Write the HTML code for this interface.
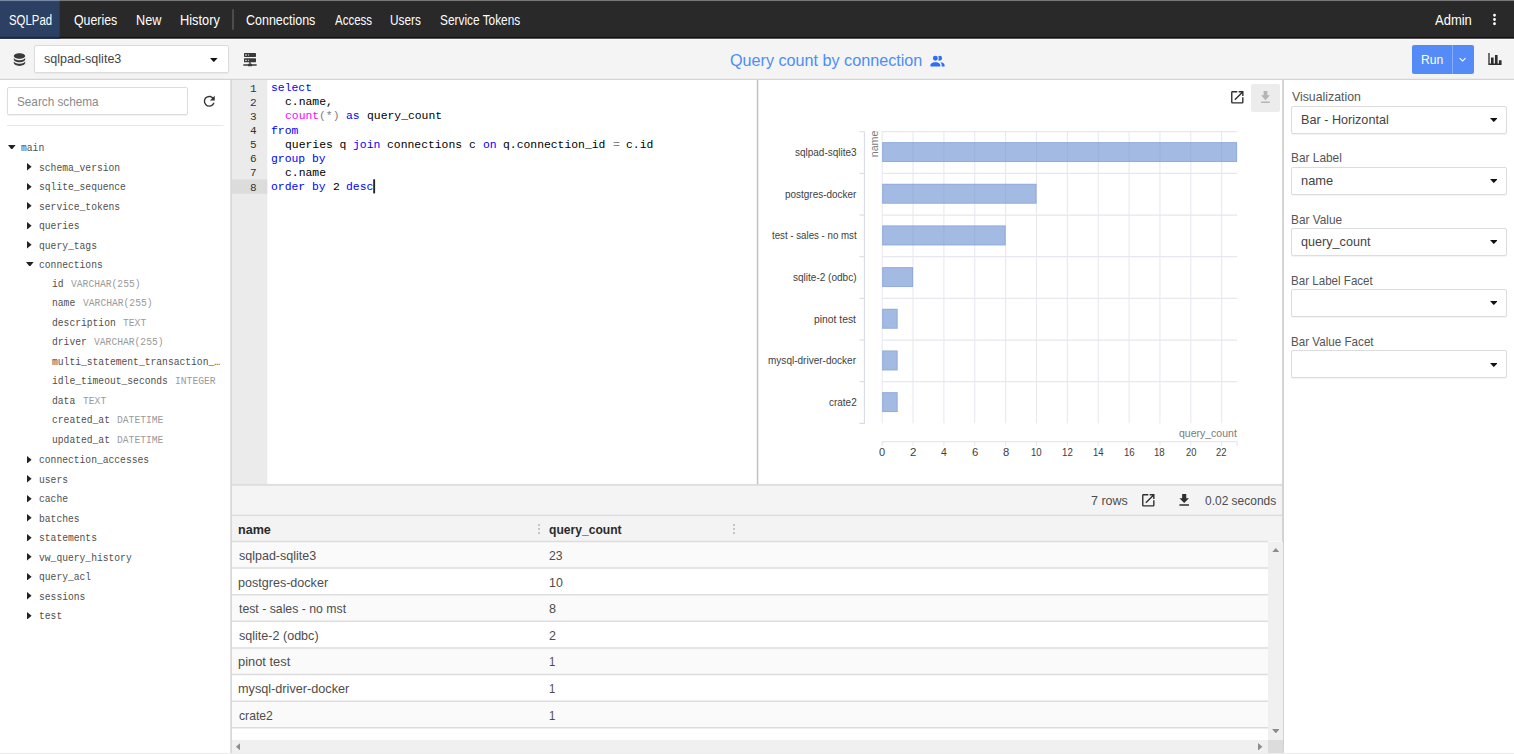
<!DOCTYPE html>
<html lang="en">
<head>
<meta charset="utf-8">
<title>SQLPad - Query count by connection</title>
<style>
*{box-sizing:border-box;margin:0;padding:0}
html,body{width:1514px;height:754px;overflow:hidden;background:#fff}
body{position:relative;font-family:"Liberation Sans",sans-serif;font-size:13px;color:#444}
.abs,.t,.tri,svg.ic{position:absolute}
.t{white-space:pre;transform-origin:0 0;display:block}
.tri{fill:#222;display:block}
svg.ic{display:block}
/* toolbar */
.sel{background:#fff;border:1px solid #dcdcdc;border-radius:2px;box-shadow:0 1px 1px rgba(0,0,0,.05)}
#run{left:1411.5px;top:45px;width:62.5px;height:29px;background:#548bf7;border-radius:2px}
#rundiv{left:1451.5px;top:45px;width:1px;height:29px;background:#86adf9}
/* sidebar */
#search{left:6.9px;top:87px;width:181.2px;height:28px;background:#fff;border:1px solid #dcdcdc;border-radius:2px;box-shadow:0 1px 1px rgba(0,0,0,.06)}
/* right panel */
#dlbtn{left:1251px;top:83.6px;width:28.5px;height:28.4px;background:#ececec;border-radius:2px}
/* results */
#vscroll{left:1268px;top:541.6px;width:14.7px;height:198px;background:#f0f0f0}
#hscroll{left:232px;top:739.6px;width:1036px;height:13px;background:#f0f0f0}
#corner{left:1268px;top:739.6px;width:14.7px;height:13px;background:#dcdcdc}
.handle{width:2px;height:10px;background:repeating-linear-gradient(to bottom,#c4c4c4 0,#c4c4c4 1.6px,transparent 1.6px,transparent 4px)}
</style>
</head>
<body>
<svg class="ic" id="chrome" style="left:0;top:0" width="1514" height="754" viewBox="0 0 1514 754" shape-rendering="geometricPrecision">
<!-- toolbar -->
<rect x="0" y="38.72" width="1514" height="41.28" fill="#f4f4f4"/>
<rect x="0" y="38.72" width="1514" height="1.5" fill="#fbfbfb"/>
<rect x="0" y="78.75" width="1514" height="1.25" fill="#d4d4d4"/>
<!-- nav -->
<rect x="0" y="0" width="1514" height="38" fill="#292929"/>
<rect x="0" y="0" width="59.7" height="38" fill="#2c4063"/>
<rect x="0" y="0" width="1514" height="1.05" fill="#787878"/>
<rect x="0" y="0" width="59.7" height="1.05" fill="#7688a6"/>
<rect x="0" y="36.9" width="1514" height="1.82" fill="#131313"/>
<rect x="0" y="36.9" width="59.7" height="1.82" fill="#18284e"/>
<rect x="232.1" y="9.2" width="1.8" height="20.6" fill="#505050"/>
<!-- editor gutter -->
<rect x="232" y="80" width="35.3" height="404" fill="#ebebeb"/>
<rect x="232" y="179.5" width="35.3" height="14.2" fill="#dcdcdc"/>
<rect x="373.2" y="179.3" width="1.9" height="14.1" fill="#262626"/>
<!-- results -->
<rect x="232" y="485.9" width="1051" height="29" fill="#f4f4f4"/>
<rect x="232" y="516" width="1051" height="25.5" fill="#f3f3f3"/>
<rect x="232" y="483.9" width="1051" height="2" fill="#dedede"/>
<rect x="232" y="514.5" width="1051" height="1.6" fill="#dedede"/>
<!-- vertical dividers -->
<rect x="230.35" y="80" width="1.6" height="674" fill="#d6d6d6"/>
<rect x="756.8" y="80" width="1.5" height="404" fill="#c2c2c2"/>
<rect x="1282.1" y="80" width="1.9" height="674" fill="#d2d2d2"/>
<!-- sidebar separator -->
<rect x="7" y="125" width="216.5" height="1" fill="#e6e6e6"/>
<!-- bottom window edge -->
<rect x="0" y="752.9" width="1514" height="1.1" fill="#ececec"/>
</svg>
<!-- NAV -->
<svg class="ic" style="left:1486px;top:11.2px" width="17" height="17" viewBox="0 0 24 24" fill="#fff"><path d="M12,16A2,2 0 0,1 14,18A2,2 0 0,1 12,20A2,2 0 0,1 10,18A2,2 0 0,1 12,16M12,10A2,2 0 0,1 14,12A2,2 0 0,1 12,14A2,2 0 0,1 10,12A2,2 0 0,1 12,10M12,4A2,2 0 0,1 14,6A2,2 0 0,1 12,8A2,2 0 0,1 10,6A2,2 0 0,1 12,4Z"/></svg>

<!-- TOOLBAR -->
<svg class="ic" style="left:11px;top:51.2px" width="17" height="17" viewBox="0 0 24 24" fill="#3a3a3a"><path d="M12,3C7.58,3 4,4.79 4,7C4,9.21 7.58,11 12,11C16.42,11 20,9.21 20,7C20,4.79 16.42,3 12,3M4,9V12C4,14.21 7.58,16 12,16C16.42,16 20,14.21 20,12V9C20,11.21 16.42,13 12,13C7.58,13 4,11.21 4,9M4,14V17C4,19.21 7.58,21 12,21C16.42,21 20,19.21 20,17V14C20,16.21 16.42,18 12,18C7.58,18 4,16.21 4,14Z"/></svg>
<div class="abs sel" style="left:33.8px;top:45.2px;width:195px;height:28px"></div>
<svg class="ic" style="left:210.3px;top:58.3px" width="7.6" height="4.1" viewBox="0 0 9 5" preserveAspectRatio="none" fill="#111"><path d="M0 0H9L4.5 5Z"/></svg>
<svg class="ic" style="left:242.4px;top:51px" width="16" height="16" viewBox="0 0 24 24" fill="#3a3a3a"><path d="M13,19H14A1,1 0 0,1 15,20H22V22H15A1,1 0 0,1 14,23H10A1,1 0 0,1 9,22H2V20H9A1,1 0 0,1 10,19H11V17H4A1,1 0 0,1 3,16V12A1,1 0 0,1 4,11H20A1,1 0 0,1 21,12V16A1,1 0 0,1 20,17H13V19M4,3H20A1,1 0 0,1 21,4V8A1,1 0 0,1 20,9H4A1,1 0 0,1 3,8V4A1,1 0 0,1 4,3M9,7H10V5H9V7M9,15H10V13H9V15M5,5V7H7V5H5M5,13V15H7V13H5Z"/></svg>
<svg class="ic" style="left:928.6px;top:52.6px" width="17" height="17" viewBox="0 0 24 24" fill="#2f6df6"><path d="M16 17V19H2V17S2 13 9 13 16 17 16 17M12.5 7.5A3.5 3.5 0 1 0 9 11A3.5 3.5 0 0 0 12.5 7.5M15.94 13A5.32 5.32 0 0 1 18 17V19H22V17S22 13.37 15.94 13M15 4A3.39 3.39 0 0 0 13.07 4.59A5 5 0 0 1 13.07 10.41A3.39 3.39 0 0 0 15 11A3.5 3.5 0 0 0 15 4Z"/></svg>
<div id="run" class="abs"></div>
<div id="rundiv" class="abs"></div>
<svg class="ic" style="left:1456.4px;top:53.3px" width="13.2" height="13.2" viewBox="0 0 24 24" fill="#fff"><path d="M7.41,8.58L12,13.17L16.59,8.58L18,10L12,16L6,10L7.41,8.58Z"/></svg>
<svg class="ic" style="left:1487.1px;top:51.0px" width="15.9" height="15.9" viewBox="0 0 24 24" fill="#2e2e2e"><path d="M22,21H2V3H4V19H6V10H10V19H12V6H16V19H18V14H22V21Z"/></svg>

<!-- SIDEBAR -->
<div id="search" class="abs"></div>
<svg class="ic" style="left:201.1px;top:93.2px" width="16.5" height="16.5" viewBox="0 0 24 24" fill="#333"><path d="M17.65,6.35C16.2,4.9 14.21,4 12,4A8,8 0 0,0 4,12A8,8 0 0,0 12,20C15.73,20 18.84,17.45 19.73,14H17.65C16.83,16.33 14.61,18 12,18A6,6 0 0,1 6,12A6,6 0 0,1 12,6C13.66,6 15.14,6.69 16.22,7.78L13,11H20V4L17.65,6.35Z"/></svg>
<svg class="tri" style="left:8.1px;top:144.7px" width="7.6" height="4.8" viewBox="0 0 7.6 4.8"><path d="M0 0H7.6L3.8 4.8Z"/></svg>
<svg class="tri" style="left:27.4px;top:163.0px" width="4.6" height="7.6" viewBox="0 0 4.6 7.6"><path d="M0 0V7.6L4.6 3.8Z"/></svg>
<svg class="tri" style="left:27.4px;top:182.5px" width="4.6" height="7.6" viewBox="0 0 4.6 7.6"><path d="M0 0V7.6L4.6 3.8Z"/></svg>
<svg class="tri" style="left:27.4px;top:202.0px" width="4.6" height="7.6" viewBox="0 0 4.6 7.6"><path d="M0 0V7.6L4.6 3.8Z"/></svg>
<svg class="tri" style="left:27.4px;top:221.5px" width="4.6" height="7.6" viewBox="0 0 4.6 7.6"><path d="M0 0V7.6L4.6 3.8Z"/></svg>
<svg class="tri" style="left:27.4px;top:241.0px" width="4.6" height="7.6" viewBox="0 0 4.6 7.6"><path d="M0 0V7.6L4.6 3.8Z"/></svg>
<svg class="tri" style="left:26.4px;top:261.7px" width="7.6" height="4.8" viewBox="0 0 7.6 4.8"><path d="M0 0H7.6L3.8 4.8Z"/></svg>
<svg class="tri" style="left:27.4px;top:455.5px" width="4.6" height="7.6" viewBox="0 0 4.6 7.6"><path d="M0 0V7.6L4.6 3.8Z"/></svg>
<svg class="tri" style="left:27.4px;top:475.0px" width="4.6" height="7.6" viewBox="0 0 4.6 7.6"><path d="M0 0V7.6L4.6 3.8Z"/></svg>
<svg class="tri" style="left:27.4px;top:494.5px" width="4.6" height="7.6" viewBox="0 0 4.6 7.6"><path d="M0 0V7.6L4.6 3.8Z"/></svg>
<svg class="tri" style="left:27.4px;top:514.0px" width="4.6" height="7.6" viewBox="0 0 4.6 7.6"><path d="M0 0V7.6L4.6 3.8Z"/></svg>
<svg class="tri" style="left:27.4px;top:533.5px" width="4.6" height="7.6" viewBox="0 0 4.6 7.6"><path d="M0 0V7.6L4.6 3.8Z"/></svg>
<svg class="tri" style="left:27.4px;top:553.0px" width="4.6" height="7.6" viewBox="0 0 4.6 7.6"><path d="M0 0V7.6L4.6 3.8Z"/></svg>
<svg class="tri" style="left:27.4px;top:572.5px" width="4.6" height="7.6" viewBox="0 0 4.6 7.6"><path d="M0 0V7.6L4.6 3.8Z"/></svg>
<svg class="tri" style="left:27.4px;top:592.0px" width="4.6" height="7.6" viewBox="0 0 4.6 7.6"><path d="M0 0V7.6L4.6 3.8Z"/></svg>
<svg class="tri" style="left:27.4px;top:611.5px" width="4.6" height="7.6" viewBox="0 0 4.6 7.6"><path d="M0 0V7.6L4.6 3.8Z"/></svg>

<!-- EDITOR -->

<!-- CHART -->
<svg class="ic" style="left:1228.6px;top:89.0px" width="16.6" height="16.6" viewBox="0 0 24 24" fill="#2e2e2e"><path d="M14,3V5H17.59L7.76,14.83L9.17,16.24L19,6.41V10H21V3M19,19H5V5H12V3H5C3.89,3 3,3.9 3,5V19A2,2 0 0,0 5,21H19A2,2 0 0,0 21,19V12H19V19Z"/></svg>
<div id="dlbtn" class="abs"></div>
<svg class="ic" style="left:1257.8px;top:89.0px" width="15" height="16.8" viewBox="0 0 24 24" preserveAspectRatio="none" fill="#b4b4b4"><path d="M5,20H19V18H5M19,9H15V3H9V9H5L12,16L19,9Z"/></svg>
<svg class="ic" style="left:758px;top:80px" width="524" height="404" viewBox="758 80 524 404">
<line x1="882.20" y1="131.70" x2="882.20" y2="423.39" stroke="#e6e7ef" stroke-width="1"/>
<line x1="913.06" y1="131.70" x2="913.06" y2="423.39" stroke="#e6e7ef" stroke-width="1"/>
<line x1="943.92" y1="131.70" x2="943.92" y2="423.39" stroke="#e6e7ef" stroke-width="1"/>
<line x1="974.78" y1="131.70" x2="974.78" y2="423.39" stroke="#e6e7ef" stroke-width="1"/>
<line x1="1005.64" y1="131.70" x2="1005.64" y2="423.39" stroke="#e6e7ef" stroke-width="1"/>
<line x1="1036.50" y1="131.70" x2="1036.50" y2="423.39" stroke="#e6e7ef" stroke-width="1"/>
<line x1="1067.36" y1="131.70" x2="1067.36" y2="423.39" stroke="#e6e7ef" stroke-width="1"/>
<line x1="1098.22" y1="131.70" x2="1098.22" y2="423.39" stroke="#e6e7ef" stroke-width="1"/>
<line x1="1129.08" y1="131.70" x2="1129.08" y2="423.39" stroke="#e6e7ef" stroke-width="1"/>
<line x1="1159.94" y1="131.70" x2="1159.94" y2="423.39" stroke="#e6e7ef" stroke-width="1"/>
<line x1="1190.80" y1="131.70" x2="1190.80" y2="423.39" stroke="#e6e7ef" stroke-width="1"/>
<line x1="1221.66" y1="131.70" x2="1221.66" y2="423.39" stroke="#e6e7ef" stroke-width="1"/>
<line x1="882.20" y1="131.70" x2="1237.09" y2="131.70" stroke="#e6e7ef" stroke-width="1.2"/>
<line x1="882.20" y1="173.37" x2="1237.09" y2="173.37" stroke="#e6e7ef" stroke-width="1.2"/>
<line x1="882.20" y1="215.04" x2="1237.09" y2="215.04" stroke="#e6e7ef" stroke-width="1.2"/>
<line x1="882.20" y1="256.71" x2="1237.09" y2="256.71" stroke="#e6e7ef" stroke-width="1.2"/>
<line x1="882.20" y1="298.38" x2="1237.09" y2="298.38" stroke="#e6e7ef" stroke-width="1.2"/>
<line x1="882.20" y1="340.05" x2="1237.09" y2="340.05" stroke="#e6e7ef" stroke-width="1.2"/>
<line x1="882.20" y1="381.72" x2="1237.09" y2="381.72" stroke="#e6e7ef" stroke-width="1.2"/>
<path d="M859.4 131.70H864.4V423.39H859.4" fill="none" stroke="#d9dce6" stroke-width="1.1"/>
<line x1="859.4" y1="173.37" x2="864.4" y2="173.37" stroke="#d9dce6" stroke-width="1.1"/>
<line x1="859.4" y1="215.04" x2="864.4" y2="215.04" stroke="#d9dce6" stroke-width="1.1"/>
<line x1="859.4" y1="256.71" x2="864.4" y2="256.71" stroke="#d9dce6" stroke-width="1.1"/>
<line x1="859.4" y1="298.38" x2="864.4" y2="298.38" stroke="#d9dce6" stroke-width="1.1"/>
<line x1="859.4" y1="340.05" x2="864.4" y2="340.05" stroke="#d9dce6" stroke-width="1.1"/>
<line x1="859.4" y1="381.72" x2="864.4" y2="381.72" stroke="#d9dce6" stroke-width="1.1"/>
<path d="M882.20 446.1V441.6H1237.09V446.1" fill="none" stroke="#e6e7ef" stroke-width="1.2"/>
<line x1="913.06" y1="441.6" x2="913.06" y2="446.1" stroke="#e6e7ef" stroke-width="1"/>
<line x1="943.92" y1="441.6" x2="943.92" y2="446.1" stroke="#e6e7ef" stroke-width="1"/>
<line x1="974.78" y1="441.6" x2="974.78" y2="446.1" stroke="#e6e7ef" stroke-width="1"/>
<line x1="1005.64" y1="441.6" x2="1005.64" y2="446.1" stroke="#e6e7ef" stroke-width="1"/>
<line x1="1036.50" y1="441.6" x2="1036.50" y2="446.1" stroke="#e6e7ef" stroke-width="1"/>
<line x1="1067.36" y1="441.6" x2="1067.36" y2="446.1" stroke="#e6e7ef" stroke-width="1"/>
<line x1="1098.22" y1="441.6" x2="1098.22" y2="446.1" stroke="#e6e7ef" stroke-width="1"/>
<line x1="1129.08" y1="441.6" x2="1129.08" y2="446.1" stroke="#e6e7ef" stroke-width="1"/>
<line x1="1159.94" y1="441.6" x2="1159.94" y2="446.1" stroke="#e6e7ef" stroke-width="1"/>
<line x1="1190.80" y1="441.6" x2="1190.80" y2="446.1" stroke="#e6e7ef" stroke-width="1"/>
<line x1="1221.66" y1="441.6" x2="1221.66" y2="446.1" stroke="#e6e7ef" stroke-width="1"/>
<rect x="882.20" y="142.13" width="354.89" height="19.9" fill="#7295d2" fill-opacity="0.65"/><rect x="882.70" y="142.63" width="353.89" height="18.9" fill="none" stroke="#6a8fd0" stroke-opacity="0.3" stroke-width="1"/>
<rect x="882.20" y="183.80" width="154.30" height="19.9" fill="#7295d2" fill-opacity="0.65"/><rect x="882.70" y="184.30" width="153.30" height="18.9" fill="none" stroke="#6a8fd0" stroke-opacity="0.3" stroke-width="1"/>
<rect x="882.20" y="225.47" width="123.44" height="19.9" fill="#7295d2" fill-opacity="0.65"/><rect x="882.70" y="225.97" width="122.44" height="18.9" fill="none" stroke="#6a8fd0" stroke-opacity="0.3" stroke-width="1"/>
<rect x="882.20" y="267.14" width="30.86" height="19.9" fill="#7295d2" fill-opacity="0.65"/><rect x="882.70" y="267.64" width="29.86" height="18.9" fill="none" stroke="#6a8fd0" stroke-opacity="0.3" stroke-width="1"/>
<rect x="882.20" y="308.82" width="15.43" height="19.9" fill="#7295d2" fill-opacity="0.65"/><rect x="882.70" y="309.32" width="14.43" height="18.9" fill="none" stroke="#6a8fd0" stroke-opacity="0.3" stroke-width="1"/>
<rect x="882.20" y="350.49" width="15.43" height="19.9" fill="#7295d2" fill-opacity="0.65"/><rect x="882.70" y="350.99" width="14.43" height="18.9" fill="none" stroke="#6a8fd0" stroke-opacity="0.3" stroke-width="1"/>
<rect x="882.20" y="392.16" width="15.43" height="19.9" fill="#7295d2" fill-opacity="0.65"/><rect x="882.70" y="392.66" width="14.43" height="18.9" fill="none" stroke="#6a8fd0" stroke-opacity="0.3" stroke-width="1"/>
<text transform="translate(877.9 157.2) rotate(-90)" font-family="Liberation Sans, sans-serif" font-size="11.2" fill="#7a7a7a" textLength="26.6" lengthAdjust="spacingAndGlyphs">name</text>
</svg>

<!-- RIGHT PANEL -->
<div class="abs sel" style="left:1291.2px;top:105.5px;width:215.6px;height:28px"></div>
<svg class="ic" style="left:1489.7px;top:118.1px" width="7.6" height="4.1" viewBox="0 0 9 5" preserveAspectRatio="none" fill="#111"><path d="M0 0H9L4.5 5Z"/></svg>
<div class="abs sel" style="left:1291.2px;top:166.6px;width:215.6px;height:28px"></div>
<svg class="ic" style="left:1489.7px;top:179.2px" width="7.6" height="4.1" viewBox="0 0 9 5" preserveAspectRatio="none" fill="#111"><path d="M0 0H9L4.5 5Z"/></svg>
<div class="abs sel" style="left:1291.2px;top:227.7px;width:215.6px;height:28px"></div>
<svg class="ic" style="left:1489.7px;top:240.3px" width="7.6" height="4.1" viewBox="0 0 9 5" preserveAspectRatio="none" fill="#111"><path d="M0 0H9L4.5 5Z"/></svg>
<div class="abs sel" style="left:1291.2px;top:288.8px;width:215.6px;height:28px"></div>
<svg class="ic" style="left:1489.7px;top:301.4px" width="7.6" height="4.1" viewBox="0 0 9 5" preserveAspectRatio="none" fill="#111"><path d="M0 0H9L4.5 5Z"/></svg>
<div class="abs sel" style="left:1291.2px;top:349.9px;width:215.6px;height:28px"></div>
<svg class="ic" style="left:1489.7px;top:362.5px" width="7.6" height="4.1" viewBox="0 0 9 5" preserveAspectRatio="none" fill="#111"><path d="M0 0H9L4.5 5Z"/></svg>

<!-- RESULTS -->
<svg class="ic" style="left:1140.4px;top:491.6px" width="16.6" height="16.6" viewBox="0 0 24 24" fill="#2e2e2e"><path d="M14,3V5H17.59L7.76,14.83L9.17,16.24L19,6.41V10H21V3M19,19H5V5H12V3H5C3.89,3 3,3.9 3,5V19A2,2 0 0,0 5,21H19A2,2 0 0,0 21,19V12H19V19Z"/></svg>
<svg class="ic" style="left:1175.8px;top:491.8px" width="16.4" height="16.4" viewBox="0 0 24 24" fill="#2e2e2e"><path d="M5,20H19V18H5M19,9H15V3H9V9H5L12,16L19,9Z"/></svg>
<div class="abs handle" style="left:537.7px;top:524px"></div>
<div class="abs handle" style="left:732.8px;top:524px"></div>
<svg class="ic" style="left:232px;top:540px" width="1036" height="200" viewBox="232 540 1036 200">
<rect x="232" y="541.50" width="1036" height="26.62" fill="#fafafa"/>
<rect x="232" y="568.12" width="1036" height="26.62" fill="#ffffff"/>
<rect x="232" y="594.74" width="1036" height="26.62" fill="#fafafa"/>
<rect x="232" y="621.36" width="1036" height="26.62" fill="#ffffff"/>
<rect x="232" y="647.98" width="1036" height="26.62" fill="#fafafa"/>
<rect x="232" y="674.60" width="1036" height="26.62" fill="#ffffff"/>
<rect x="232" y="701.22" width="1036" height="26.62" fill="#fafafa"/>
<rect x="232" y="727.84" width="1036" height="11.76" fill="#ffffff"/>
<line x1="232" y1="541.50" x2="1268" y2="541.50" stroke="#dddddd" stroke-width="1.5"/>
<line x1="232" y1="568.12" x2="1268" y2="568.12" stroke="#dddddd" stroke-width="1.5"/>
<line x1="232" y1="594.74" x2="1268" y2="594.74" stroke="#dddddd" stroke-width="1.5"/>
<line x1="232" y1="621.36" x2="1268" y2="621.36" stroke="#dddddd" stroke-width="1.5"/>
<line x1="232" y1="647.98" x2="1268" y2="647.98" stroke="#dddddd" stroke-width="1.5"/>
<line x1="232" y1="674.60" x2="1268" y2="674.60" stroke="#dddddd" stroke-width="1.5"/>
<line x1="232" y1="701.22" x2="1268" y2="701.22" stroke="#dddddd" stroke-width="1.5"/>
<line x1="232" y1="727.84" x2="1268" y2="727.84" stroke="#dddddd" stroke-width="1.5"/>
</svg>
<div id="vscroll" class="abs"></div>
<div id="hscroll" class="abs"></div>
<div id="corner" class="abs"></div>
<svg class="ic" style="left:1271.6px;top:547.8px" width="7.6" height="4.4" viewBox="0 0 7.6 4.4" fill="#8c8c8c"><path d="M0 4.4H7.6L3.8 0Z"/></svg>
<svg class="ic" style="left:1271.6px;top:729px" width="7.6" height="4.4" viewBox="0 0 7.6 4.4" fill="#8c8c8c"><path d="M0 0H7.6L3.8 4.4Z"/></svg>
<svg class="ic" style="left:236px;top:742.6px" width="4.4" height="7.6" viewBox="0 0 4.4 7.6" fill="#8c8c8c"><path d="M4.4 0V7.6L0 3.8Z"/></svg>
<svg class="ic" style="left:1258.4px;top:742.6px" width="4.4" height="7.6" viewBox="0 0 4.4 7.6" fill="#8c8c8c"><path d="M0 0V7.6L4.4 3.8Z"/></svg>

<span class="t" style="left:8.54px;top:14.00px;font-size:13.8px;line-height:13.8px;color:#ffffff;transform:scaleX(0.8261);">SQLPad</span>
<span class="t" style="left:74.02px;top:14.00px;font-size:13.8px;line-height:13.8px;color:#ffffff;transform:scaleX(0.8933);">Queries</span>
<span class="t" style="left:135.91px;top:14.00px;font-size:13.8px;line-height:13.8px;color:#ffffff;transform:scaleX(0.9177);">New</span>
<span class="t" style="left:179.80px;top:14.00px;font-size:13.8px;line-height:13.8px;color:#ffffff;transform:scaleX(0.9269);">History</span>
<span class="t" style="left:246.22px;top:14.00px;font-size:13.8px;line-height:13.8px;color:#ffffff;transform:scaleX(0.9043);">Connections</span>
<span class="t" style="left:334.60px;top:14.00px;font-size:13.8px;line-height:13.8px;color:#ffffff;transform:scaleX(0.8332);">Access</span>
<span class="t" style="left:389.76px;top:14.00px;font-size:13.8px;line-height:13.8px;color:#ffffff;transform:scaleX(0.8549);">Users</span>
<span class="t" style="left:439.63px;top:14.00px;font-size:13.8px;line-height:13.8px;color:#ffffff;transform:scaleX(0.8597);">Service Tokens</span>
<span class="t" style="left:1434.80px;top:14.00px;font-size:13.8px;line-height:13.8px;color:#ffffff;transform:scaleX(0.9416);">Admin</span>
<span class="t" style="left:43.85px;top:53.00px;font-size:12.6px;line-height:12.6px;color:#444444;transform:scaleX(0.9949);">sqlpad-sqlite3</span>
<span class="t" style="left:730.04px;top:52.00px;font-size:16.2px;line-height:16.2px;color:#4d8df7;transform:scaleX(0.9987);">Query count by connection</span>
<span class="t" style="left:1420.85px;top:53.00px;font-size:13.2px;line-height:13.2px;color:#ffffff;transform:scaleX(0.9224);">Run</span>
<span class="t" style="left:17.13px;top:95.00px;font-size:13.2px;line-height:13.2px;color:#8a8a8a;transform:scaleX(0.8908);">Search schema</span>
<span class="t" style="left:20.60px;top:143.00px;font-size:10.4px;line-height:10.4px;color:#4f4f4f;font-family:'Liberation Mono', monospace;transform:scaleX(0.9293);">main</span>
<span class="t" style="left:39.00px;top:163.00px;font-size:10.4px;line-height:10.4px;color:#4f4f4f;font-family:'Liberation Mono', monospace;transform:scaleX(0.9293);">schema_version</span>
<span class="t" style="left:39.00px;top:182.00px;font-size:10.4px;line-height:10.4px;color:#4f4f4f;font-family:'Liberation Mono', monospace;transform:scaleX(0.9293);">sqlite_sequence</span>
<span class="t" style="left:39.00px;top:202.00px;font-size:10.4px;line-height:10.4px;color:#4f4f4f;font-family:'Liberation Mono', monospace;transform:scaleX(0.9293);">service_tokens</span>
<span class="t" style="left:39.00px;top:221.00px;font-size:10.4px;line-height:10.4px;color:#4f4f4f;font-family:'Liberation Mono', monospace;transform:scaleX(0.9293);">queries</span>
<span class="t" style="left:39.00px;top:241.00px;font-size:10.4px;line-height:10.4px;color:#4f4f4f;font-family:'Liberation Mono', monospace;transform:scaleX(0.9293);">query_tags</span>
<span class="t" style="left:39.00px;top:260.00px;font-size:10.4px;line-height:10.4px;color:#4f4f4f;font-family:'Liberation Mono', monospace;transform:scaleX(0.9293);">connections</span>
<span class="t" style="left:51.50px;top:279.00px;font-size:10.4px;line-height:10.4px;color:#4f4f4f;font-family:'Liberation Mono', monospace;transform:scaleX(0.9293);">id</span>
<span class="t" style="left:70.90px;top:279.00px;font-size:10.4px;line-height:10.4px;color:#9a9a9a;font-family:'Liberation Mono', monospace;transform:scaleX(0.9293);">VARCHAR(255)</span>
<span class="t" style="left:51.50px;top:298.00px;font-size:10.4px;line-height:10.4px;color:#4f4f4f;font-family:'Liberation Mono', monospace;transform:scaleX(0.9293);">name</span>
<span class="t" style="left:82.50px;top:298.00px;font-size:10.4px;line-height:10.4px;color:#9a9a9a;font-family:'Liberation Mono', monospace;transform:scaleX(0.9293);">VARCHAR(255)</span>
<span class="t" style="left:51.50px;top:318.00px;font-size:10.4px;line-height:10.4px;color:#4f4f4f;font-family:'Liberation Mono', monospace;transform:scaleX(0.9293);">description</span>
<span class="t" style="left:123.10px;top:318.00px;font-size:10.4px;line-height:10.4px;color:#9a9a9a;font-family:'Liberation Mono', monospace;transform:scaleX(0.9293);">TEXT</span>
<span class="t" style="left:51.50px;top:337.00px;font-size:10.4px;line-height:10.4px;color:#4f4f4f;font-family:'Liberation Mono', monospace;transform:scaleX(0.9293);">driver</span>
<span class="t" style="left:94.10px;top:337.00px;font-size:10.4px;line-height:10.4px;color:#9a9a9a;font-family:'Liberation Mono', monospace;transform:scaleX(0.9293);">VARCHAR(255)</span>
<span class="t" style="left:51.50px;top:357.00px;font-size:10.4px;line-height:10.4px;color:#4f4f4f;font-family:'Liberation Mono', monospace;transform:scaleX(0.9293);">multi_statement_transaction_…</span>
<span class="t" style="left:51.50px;top:376.00px;font-size:10.4px;line-height:10.4px;color:#4f4f4f;font-family:'Liberation Mono', monospace;transform:scaleX(0.9293);">idle_timeout_seconds</span>
<span class="t" style="left:175.30px;top:376.00px;font-size:10.4px;line-height:10.4px;color:#9a9a9a;font-family:'Liberation Mono', monospace;transform:scaleX(0.9293);">INTEGER</span>
<span class="t" style="left:51.50px;top:396.00px;font-size:10.4px;line-height:10.4px;color:#4f4f4f;font-family:'Liberation Mono', monospace;transform:scaleX(0.9293);">data</span>
<span class="t" style="left:82.50px;top:396.00px;font-size:10.4px;line-height:10.4px;color:#9a9a9a;font-family:'Liberation Mono', monospace;transform:scaleX(0.9293);">TEXT</span>
<span class="t" style="left:51.50px;top:415.00px;font-size:10.4px;line-height:10.4px;color:#4f4f4f;font-family:'Liberation Mono', monospace;transform:scaleX(0.9293);">created_at</span>
<span class="t" style="left:117.30px;top:415.00px;font-size:10.4px;line-height:10.4px;color:#9a9a9a;font-family:'Liberation Mono', monospace;transform:scaleX(0.9293);">DATETIME</span>
<span class="t" style="left:51.50px;top:435.00px;font-size:10.4px;line-height:10.4px;color:#4f4f4f;font-family:'Liberation Mono', monospace;transform:scaleX(0.9293);">updated_at</span>
<span class="t" style="left:117.30px;top:435.00px;font-size:10.4px;line-height:10.4px;color:#9a9a9a;font-family:'Liberation Mono', monospace;transform:scaleX(0.9293);">DATETIME</span>
<span class="t" style="left:39.00px;top:455.00px;font-size:10.4px;line-height:10.4px;color:#4f4f4f;font-family:'Liberation Mono', monospace;transform:scaleX(0.9293);">connection_accesses</span>
<span class="t" style="left:39.00px;top:475.00px;font-size:10.4px;line-height:10.4px;color:#4f4f4f;font-family:'Liberation Mono', monospace;transform:scaleX(0.9293);">users</span>
<span class="t" style="left:39.00px;top:494.00px;font-size:10.4px;line-height:10.4px;color:#4f4f4f;font-family:'Liberation Mono', monospace;transform:scaleX(0.9293);">cache</span>
<span class="t" style="left:39.00px;top:514.00px;font-size:10.4px;line-height:10.4px;color:#4f4f4f;font-family:'Liberation Mono', monospace;transform:scaleX(0.9293);">batches</span>
<span class="t" style="left:39.00px;top:533.00px;font-size:10.4px;line-height:10.4px;color:#4f4f4f;font-family:'Liberation Mono', monospace;transform:scaleX(0.9293);">statements</span>
<span class="t" style="left:39.00px;top:553.00px;font-size:10.4px;line-height:10.4px;color:#4f4f4f;font-family:'Liberation Mono', monospace;transform:scaleX(0.9293);">vw_query_history</span>
<span class="t" style="left:39.00px;top:572.00px;font-size:10.4px;line-height:10.4px;color:#4f4f4f;font-family:'Liberation Mono', monospace;transform:scaleX(0.9293);">query_acl</span>
<span class="t" style="left:39.00px;top:592.00px;font-size:10.4px;line-height:10.4px;color:#4f4f4f;font-family:'Liberation Mono', monospace;transform:scaleX(0.9293);">sessions</span>
<span class="t" style="left:39.00px;top:611.00px;font-size:10.4px;line-height:10.4px;color:#4f4f4f;font-family:'Liberation Mono', monospace;transform:scaleX(0.9293);">test</span>
<span class="t" style="left:271.30px;top:83.00px;font-size:11.8px;line-height:11.8px;color:#0000ff;font-family:'Liberation Mono', monospace;transform:scaleX(0.9641);">select</span>
<span class="t" style="left:249.60px;top:84.00px;font-size:11.0px;line-height:11.0px;color:#333333;font-family:'Liberation Mono', monospace;transform:scaleX(1.0039);">1</span>
<span class="t" style="left:284.95px;top:97.00px;font-size:11.8px;line-height:11.8px;color:#000000;font-family:'Liberation Mono', monospace;transform:scaleX(0.9641);">c.name,</span>
<span class="t" style="left:249.60px;top:98.00px;font-size:11.0px;line-height:11.0px;color:#333333;font-family:'Liberation Mono', monospace;transform:scaleX(1.0039);">2</span>
<span class="t" style="left:284.95px;top:111.00px;font-size:11.8px;line-height:11.8px;color:#ff00ff;font-family:'Liberation Mono', monospace;transform:scaleX(0.9641);">count</span>
<span class="t" style="left:319.09px;top:111.00px;font-size:11.8px;line-height:11.8px;color:#808080;font-family:'Liberation Mono', monospace;transform:scaleX(0.9641);">(*)</span>
<span class="t" style="left:346.40px;top:111.00px;font-size:11.8px;line-height:11.8px;color:#0000ff;font-family:'Liberation Mono', monospace;transform:scaleX(0.9641);">as</span>
<span class="t" style="left:366.88px;top:111.00px;font-size:11.8px;line-height:11.8px;color:#000000;font-family:'Liberation Mono', monospace;transform:scaleX(0.9641);">query_count</span>
<span class="t" style="left:249.60px;top:112.00px;font-size:11.0px;line-height:11.0px;color:#333333;font-family:'Liberation Mono', monospace;transform:scaleX(1.0039);">3</span>
<span class="t" style="left:271.30px;top:126.00px;font-size:11.8px;line-height:11.8px;color:#0000ff;font-family:'Liberation Mono', monospace;transform:scaleX(0.9641);">from</span>
<span class="t" style="left:249.60px;top:126.00px;font-size:11.0px;line-height:11.0px;color:#333333;font-family:'Liberation Mono', monospace;transform:scaleX(1.0039);">4</span>
<span class="t" style="left:284.95px;top:140.00px;font-size:11.8px;line-height:11.8px;color:#000000;font-family:'Liberation Mono', monospace;transform:scaleX(0.9641);">queries q</span>
<span class="t" style="left:353.22px;top:140.00px;font-size:11.8px;line-height:11.8px;color:#0000ff;font-family:'Liberation Mono', monospace;transform:scaleX(0.9641);">join</span>
<span class="t" style="left:387.36px;top:140.00px;font-size:11.8px;line-height:11.8px;color:#000000;font-family:'Liberation Mono', monospace;transform:scaleX(0.9641);">connections c</span>
<span class="t" style="left:482.94px;top:140.00px;font-size:11.8px;line-height:11.8px;color:#0000ff;font-family:'Liberation Mono', monospace;transform:scaleX(0.9641);">on</span>
<span class="t" style="left:503.42px;top:140.00px;font-size:11.8px;line-height:11.8px;color:#000000;font-family:'Liberation Mono', monospace;transform:scaleX(0.9641);">q.connection_id</span>
<span class="t" style="left:612.65px;top:140.00px;font-size:11.8px;line-height:11.8px;color:#808080;font-family:'Liberation Mono', monospace;transform:scaleX(0.9641);">=</span>
<span class="t" style="left:626.30px;top:140.00px;font-size:11.8px;line-height:11.8px;color:#000000;font-family:'Liberation Mono', monospace;transform:scaleX(0.9641);">c.id</span>
<span class="t" style="left:249.60px;top:140.00px;font-size:11.0px;line-height:11.0px;color:#333333;font-family:'Liberation Mono', monospace;transform:scaleX(1.0039);">5</span>
<span class="t" style="left:271.30px;top:154.00px;font-size:11.8px;line-height:11.8px;color:#0000ff;font-family:'Liberation Mono', monospace;transform:scaleX(0.9641);">group by</span>
<span class="t" style="left:249.60px;top:154.00px;font-size:11.0px;line-height:11.0px;color:#333333;font-family:'Liberation Mono', monospace;transform:scaleX(1.0039);">6</span>
<span class="t" style="left:284.95px;top:168.00px;font-size:11.8px;line-height:11.8px;color:#000000;font-family:'Liberation Mono', monospace;transform:scaleX(0.9641);">c.name</span>
<span class="t" style="left:249.60px;top:168.00px;font-size:11.0px;line-height:11.0px;color:#333333;font-family:'Liberation Mono', monospace;transform:scaleX(1.0039);">7</span>
<span class="t" style="left:271.30px;top:182.00px;font-size:11.8px;line-height:11.8px;color:#0000ff;font-family:'Liberation Mono', monospace;transform:scaleX(0.9641);">order by</span>
<span class="t" style="left:332.74px;top:182.00px;font-size:11.8px;line-height:11.8px;color:#000000;font-family:'Liberation Mono', monospace;transform:scaleX(0.9641);">2</span>
<span class="t" style="left:346.40px;top:182.00px;font-size:11.8px;line-height:11.8px;color:#0000ff;font-family:'Liberation Mono', monospace;transform:scaleX(0.9641);">desc</span>
<span class="t" style="left:249.60px;top:183.00px;font-size:11.0px;line-height:11.0px;color:#333333;font-family:'Liberation Mono', monospace;transform:scaleX(1.0039);">8</span>
<span class="t" style="left:795.06px;top:147.00px;font-size:10.6px;line-height:10.6px;color:#3e3e3e;transform:scaleX(0.9427);">sqlpad-sqlite3</span>
<span class="t" style="left:785.09px;top:189.00px;font-size:10.6px;line-height:10.6px;color:#3e3e3e;transform:scaleX(0.9386);">postgres-docker</span>
<span class="t" style="left:771.66px;top:230.00px;font-size:10.6px;line-height:10.6px;color:#3e3e3e;transform:scaleX(0.9156);">test - sales - no mst</span>
<span class="t" style="left:793.36px;top:272.00px;font-size:10.6px;line-height:10.6px;color:#3e3e3e;transform:scaleX(0.9460);">sqlite-2 (odbc)</span>
<span class="t" style="left:814.37px;top:314.00px;font-size:10.6px;line-height:10.6px;color:#3e3e3e;transform:scaleX(0.9759);">pinot test</span>
<span class="t" style="left:768.34px;top:355.00px;font-size:10.6px;line-height:10.6px;color:#3e3e3e;transform:scaleX(0.9465);">mysql-driver-docker</span>
<span class="t" style="left:829.08px;top:397.00px;font-size:10.6px;line-height:10.6px;color:#3e3e3e;transform:scaleX(0.9398);">crate2</span>
<span class="t" style="left:879.13px;top:447.00px;font-size:10.6px;line-height:10.6px;color:#3e3e3e;transform:scaleX(1.0392);">0</span>
<span class="t" style="left:909.87px;top:447.00px;font-size:10.6px;line-height:10.6px;color:#3e3e3e;transform:scaleX(1.0816);">2</span>
<span class="t" style="left:941.07px;top:447.00px;font-size:10.6px;line-height:10.6px;color:#3e3e3e;transform:scaleX(0.9815);">4</span>
<span class="t" style="left:971.59px;top:447.00px;font-size:10.6px;line-height:10.6px;color:#3e3e3e;transform:scaleX(1.0707);">6</span>
<span class="t" style="left:1002.51px;top:447.00px;font-size:10.6px;line-height:10.6px;color:#3e3e3e;transform:scaleX(1.0600);">8</span>
<span class="t" style="left:1030.98px;top:447.00px;font-size:10.6px;line-height:10.6px;color:#3e3e3e;transform:scaleX(0.9061);">10</span>
<span class="t" style="left:1061.83px;top:447.00px;font-size:10.6px;line-height:10.6px;color:#3e3e3e;transform:scaleX(0.9147);">12</span>
<span class="t" style="left:1092.70px;top:447.00px;font-size:10.6px;line-height:10.6px;color:#3e3e3e;transform:scaleX(0.8976);">14</span>
<span class="t" style="left:1123.55px;top:447.00px;font-size:10.6px;line-height:10.6px;color:#3e3e3e;transform:scaleX(0.9104);">16</span>
<span class="t" style="left:1154.41px;top:447.00px;font-size:10.6px;line-height:10.6px;color:#3e3e3e;transform:scaleX(0.9104);">18</span>
<span class="t" style="left:1185.56px;top:447.00px;font-size:10.6px;line-height:10.6px;color:#3e3e3e;transform:scaleX(0.8811);">20</span>
<span class="t" style="left:1216.42px;top:447.00px;font-size:10.6px;line-height:10.6px;color:#3e3e3e;transform:scaleX(0.8893);">22</span>
<span class="t" style="left:1178.80px;top:428.00px;font-size:10.6px;line-height:10.6px;color:#7a7a7a;transform:scaleX(0.9914);">query_count</span>
<span class="t" style="left:1090.71px;top:494.00px;font-size:13.2px;line-height:13.2px;color:#4d4d4d;transform:scaleX(0.9459);">7 rows</span>
<span class="t" style="left:1204.83px;top:494.00px;font-size:13.2px;line-height:13.2px;color:#4d4d4d;transform:scaleX(0.9074);">0.02 seconds</span>
<span class="t" style="left:238.21px;top:523.00px;font-size:13.2px;line-height:13.2px;color:#2a2a2a;font-weight:bold;transform:scaleX(0.9541);">name</span>
<span class="t" style="left:548.92px;top:523.00px;font-size:13.2px;line-height:13.2px;color:#2a2a2a;font-weight:bold;transform:scaleX(0.9170);">query_count</span>
<span class="t" style="left:238.80px;top:549.00px;font-size:13.2px;line-height:13.2px;color:#4d4d4d;transform:scaleX(0.9479);">sqlpad-sqlite3</span>
<span class="t" style="left:548.93px;top:549.00px;font-size:13.2px;line-height:13.2px;color:#4d4d4d;transform:scaleX(0.9240);">23</span>
<span class="t" style="left:238.21px;top:576.00px;font-size:13.2px;line-height:13.2px;color:#4d4d4d;transform:scaleX(0.9525);">postgres-docker</span>
<span class="t" style="left:548.73px;top:576.00px;font-size:13.2px;line-height:13.2px;color:#4d4d4d;transform:scaleX(0.9387);">10</span>
<span class="t" style="left:239.00px;top:602.00px;font-size:13.2px;line-height:13.2px;color:#4d4d4d;transform:scaleX(0.9305);">test - sales - no mst</span>
<span class="t" style="left:549.11px;top:602.00px;font-size:13.2px;line-height:13.2px;color:#4d4d4d;transform:scaleX(0.9541);">8</span>
<span class="t" style="left:238.80px;top:629.00px;font-size:13.2px;line-height:13.2px;color:#4d4d4d;transform:scaleX(0.9523);">sqlite-2 (odbc)</span>
<span class="t" style="left:548.91px;top:629.00px;font-size:13.2px;line-height:13.2px;color:#4d4d4d;transform:scaleX(0.9535);">2</span>
<span class="t" style="left:238.20px;top:655.00px;font-size:13.2px;line-height:13.2px;color:#4d4d4d;transform:scaleX(0.9756);">pinot test</span>
<span class="t" style="left:548.67px;top:655.00px;font-size:13.2px;line-height:13.2px;color:#4d4d4d;transform:scaleX(0.8600);">1</span>
<span class="t" style="left:238.21px;top:682.00px;font-size:13.2px;line-height:13.2px;color:#4d4d4d;transform:scaleX(0.9609);">mysql-driver-docker</span>
<span class="t" style="left:548.67px;top:682.00px;font-size:13.2px;line-height:13.2px;color:#4d4d4d;transform:scaleX(0.8600);">1</span>
<span class="t" style="left:238.62px;top:709.00px;font-size:13.2px;line-height:13.2px;color:#4d4d4d;transform:scaleX(0.9234);">crate2</span>
<span class="t" style="left:548.67px;top:709.00px;font-size:13.2px;line-height:13.2px;color:#4d4d4d;transform:scaleX(0.8600);">1</span>
<span class="t" style="left:1291.60px;top:90.00px;font-size:13.2px;line-height:13.2px;color:#555555;transform:scaleX(0.9326);">Visualization</span>
<span class="t" style="left:1300.60px;top:114.00px;font-size:12.6px;line-height:12.6px;color:#444444;transform:scaleX(1.0031);">Bar - Horizontal</span>
<span class="t" style="left:1290.67px;top:151.00px;font-size:13.2px;line-height:13.2px;color:#555555;transform:scaleX(0.9010);">Bar Label</span>
<span class="t" style="left:1300.78px;top:175.00px;font-size:12.6px;line-height:12.6px;color:#444444;transform:scaleX(1.0212);">name</span>
<span class="t" style="left:1290.67px;top:213.00px;font-size:13.2px;line-height:13.2px;color:#555555;transform:scaleX(0.8985);">Bar Value</span>
<span class="t" style="left:1301.10px;top:236.00px;font-size:12.6px;line-height:12.6px;color:#444444;transform:scaleX(1.0000);">query_count</span>
<span class="t" style="left:1290.69px;top:274.00px;font-size:13.2px;line-height:13.2px;color:#555555;transform:scaleX(0.8785);">Bar Label Facet</span>
<span class="t" style="left:1290.69px;top:335.00px;font-size:13.2px;line-height:13.2px;color:#555555;transform:scaleX(0.8826);">Bar Value Facet</span>
</body>
</html>
